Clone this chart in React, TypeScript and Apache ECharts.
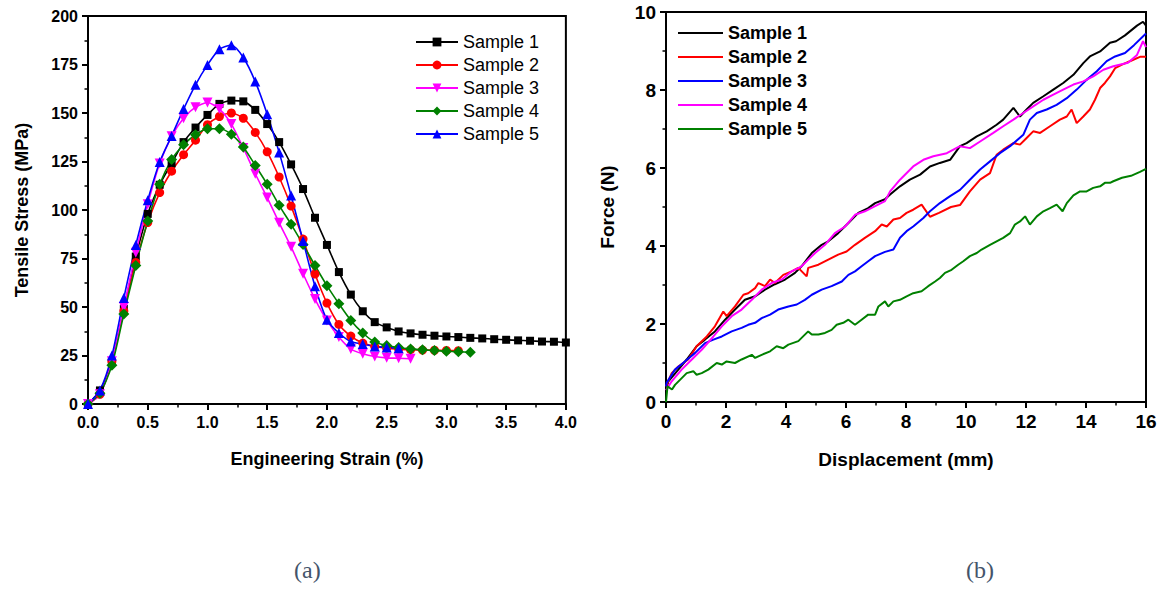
import React, { useEffect, useRef } from "react";
import * as echarts from "echarts";

// ---------- (a) tensile stress vs strain ----------
const strain = [0, 0.1, 0.2, 0.3, 0.4, 0.5, 0.6, 0.7, 0.8, 0.9, 1.0, 1.1, 1.2, 1.3, 1.4, 1.5, 1.6, 1.7, 1.8, 1.9, 2.0,
  2.1, 2.2, 2.3, 2.4, 2.5, 2.6, 2.7, 2.8, 2.9, 3.0, 3.1, 3.2, 3.3, 3.4, 3.5, 3.6, 3.7, 3.8, 3.9, 4.0];
const stressS1 = [0, 7, 22, 49, 76, 98, 113, 124, 135, 142.5, 149, 154.7, 156.4, 156, 151.6, 144.3, 135, 123.5, 110.8, 96, 82,
  68, 56.4, 47.8, 42.2, 39.5, 37.4, 36.4, 35.7, 35.2, 34.8, 34.5, 34.1, 33.8, 33.4, 33.1, 32.8, 32.6, 32.2, 32.1, 31.7];
const stressS2 = [0, 5, 22, 48, 73, 93.5, 109, 120, 128.5, 136, 144, 148.2, 150, 147.3, 140, 130, 117, 102, 85, 67, 52,
  41, 35, 31.4, 29.7, 28.8, 28.3, 28, 27.8, 27.7, 27.6, 27.5];
const stressS3 = [0, 5, 22, 50, 78, 103, 124, 138, 147.3, 153, 155.4, 152, 144.3, 132, 118.7, 106.4, 93.4, 81, 67.2, 54.1, 43.1,
  34.5, 28.3, 25.9, 24.5, 23.8, 23.6, 23.3];
const stressS4 = [0, 5.5, 20, 46.4, 71.4, 94.3, 113.3, 126, 133.6, 138.8, 141.9, 141.9, 139, 132.5, 123, 113.3, 102.4, 92.6, 82.2, 71.4, 61,
  51.7, 43.1, 36.6, 31.9, 30.2, 29.1, 28.4, 27.9, 27.6, 27.2, 26.9, 26.7];
const stressS5 = [0, 7, 25, 54.7, 82, 105, 124.7, 138.2, 152, 164.5, 174.8, 182.8, 184.9, 178.6, 166.2, 149.4, 129.7, 107.5, 84, 60.7, 43.4,
  36.6, 32.2, 30.9, 29.7, 29.1, 28.8];
const strainTicks = ["0.0", "0.5", "1.0", "1.5", "2.0", "2.5", "3.0", "3.5", "4.0"];

// ---------- (b) force vs displacement ----------
const dispS1 = [0, 0.08, 0.41, 0.69, 1.02, 1.3, 1.63, 1.97, 2.3, 2.63, 2.97, 3.3, 3.63, 3.97, 4.3, 4.52, 4.86, 5.19, 5.41, 5.74, 6.08, 6.41, 6.74, 6.97, 7.3, 7.47, 7.8, 8.13, 8.47, 8.8, 9.13, 9.47, 9.8, 10.02, 10.36, 10.69, 11.02, 11.24, 11.58, 11.8, 12.02, 12.24, 12.58, 12.91, 13.24, 13.58, 13.91, 14.13, 14.47, 14.8, 15.0, 15.3, 15.7, 15.9, 16];
const forceS1 = [0.3, 0.53, 0.83, 1.09, 1.43, 1.6, 1.81, 2.11, 2.37, 2.62, 2.71, 2.88, 3.02, 3.14, 3.31, 3.48, 3.82, 4.03, 4.12, 4.33, 4.59, 4.85, 4.97, 5.1, 5.2, 5.32, 5.53, 5.7, 5.83, 6.04, 6.13, 6.21, 6.56, 6.64, 6.81, 6.94, 7.11, 7.24, 7.54, 7.32, 7.5, 7.67, 7.84, 8.01, 8.18, 8.39, 8.69, 8.86, 8.99, 9.21, 9.25, 9.4, 9.65, 9.75, 9.65];
const dispS2 = [0, 0.19, 0.41, 0.74, 1.02, 1.36, 1.63, 1.91, 2.02, 2.3, 2.58, 2.74, 2.97, 3.08, 3.3, 3.47, 3.63, 3.91, 4.19, 4.41, 4.69, 4.74, 5.08, 5.41, 5.74, 6.02, 6.3, 6.63, 6.97, 7.19, 7.36, 7.58, 7.8, 8.02, 8.24, 8.52, 8.8, 9.1, 9.5, 9.8, 10.13, 10.47, 10.8, 11.02, 11.24, 11.58, 11.8, 12.02, 12.24, 12.47, 12.8, 13.13, 13.36, 13.52, 13.69, 13.91, 14.13, 14.3, 14.47, 14.63, 14.8, 14.97, 15.2, 15.5, 15.8, 16];
const forceS2 = [0.4, 0.74, 0.91, 1.09, 1.43, 1.68, 1.94, 2.32, 2.2, 2.45, 2.75, 2.79, 2.92, 3.05, 2.97, 3.14, 3.05, 3.26, 3.35, 3.44, 3.22, 3.44, 3.52, 3.65, 3.78, 3.86, 4.03, 4.21, 4.38, 4.55, 4.5, 4.68, 4.72, 4.85, 4.93, 5.06, 4.75, 4.85, 5.0, 5.05, 5.4, 5.7, 5.87, 6.34, 6.47, 6.64, 6.6, 6.77, 6.94, 6.9, 7.07, 7.24, 7.32, 7.5, 7.15, 7.32, 7.5, 7.75, 8.05, 8.18, 8.35, 8.56, 8.65, 8.75, 8.85, 8.85];
const dispS3 = [0, 0.02, 0.3, 0.63, 0.97, 1.3, 1.58, 1.86, 2.19, 2.52, 2.74, 2.97, 3.19, 3.47, 3.74, 4.08, 4.36, 4.63, 4.86, 5.19, 5.52, 5.86, 6.08, 6.3, 6.52, 6.74, 6.97, 7.3, 7.58, 7.8, 8.02, 8.24, 8.58, 8.8, 9.13, 9.47, 9.8, 10.13, 10.47, 10.8, 11.13, 11.47, 11.91, 12.13, 12.36, 12.69, 13.02, 13.36, 13.69, 14.02, 14.36, 14.69, 14.97, 15.3, 15.6, 16];
const forceS3 = [0.4, 0.49, 0.83, 1.04, 1.26, 1.51, 1.6, 1.68, 1.81, 1.9, 1.98, 2.03, 2.15, 2.24, 2.37, 2.45, 2.5, 2.62, 2.75, 2.88, 2.97, 3.09, 3.26, 3.35, 3.48, 3.61, 3.74, 3.85, 3.91, 4.21, 4.38, 4.5, 4.72, 4.89, 5.1, 5.28, 5.44, 5.7, 5.96, 6.17, 6.38, 6.56, 6.85, 7.24, 7.41, 7.5, 7.62, 7.79, 8.01, 8.26, 8.48, 8.74, 8.86, 8.95, 9.15, 9.45];
const dispS4 = [0, 0.19, 0.52, 0.86, 1.19, 1.58, 1.86, 2.19, 2.52, 2.86, 3.19, 3.52, 3.86, 4.19, 4.52, 4.74, 4.97, 5.3, 5.63, 5.97, 6.3, 6.63, 6.97, 7.3, 7.47, 7.8, 8.24, 8.58, 8.91, 9.36, 9.8, 10.13, 10.47, 10.91, 11.24, 11.58, 11.91, 12.24, 12.58, 12.91, 13.24, 13.58, 13.91, 14.24, 14.58, 14.91, 15.4, 15.7, 15.9, 16];
const forceS4 = [0.3, 0.53, 0.83, 1.09, 1.34, 1.68, 1.94, 2.2, 2.37, 2.62, 2.88, 3.05, 3.14, 3.35, 3.48, 3.65, 3.82, 4.03, 4.33, 4.5, 4.8, 4.89, 5.02, 5.15, 5.4, 5.7, 6.04, 6.21, 6.3, 6.38, 6.56, 6.51, 6.68, 6.9, 7.07, 7.24, 7.41, 7.58, 7.75, 7.88, 8.01, 8.14, 8.22, 8.35, 8.52, 8.61, 8.7, 8.9, 9.25, 9.1];
const dispS5 = [0, 0.05, 0.2, 0.3, 0.69, 0.91, 1.02, 1.19, 1.41, 1.69, 1.86, 2.02, 2.3, 2.52, 2.86, 2.97, 3.19, 3.47, 3.69, 3.91, 4.08, 4.41, 4.74, 4.86, 5.08, 5.3, 5.52, 5.69, 5.91, 6.08, 6.3, 6.52, 6.74, 6.97, 7.08, 7.3, 7.41, 7.58, 7.8, 8.02, 8.24, 8.52, 8.74, 8.97, 9.13, 9.3, 9.52, 9.74, 9.91, 10.13, 10.36, 10.52, 10.8, 11.02, 11.24, 11.47, 11.63, 11.8, 11.97, 12.13, 12.36, 12.58, 12.8, 13.02, 13.22, 13.36, 13.58, 13.8, 14.02, 14.24, 14.47, 14.63, 14.8, 14.91, 15.2, 15.5, 15.8, 16];
const forceS5 = [0, 0.4, 0.32, 0.44, 0.74, 0.79, 0.7, 0.74, 0.83, 1.0, 0.96, 1.04, 1.0, 1.09, 1.21, 1.13, 1.21, 1.3, 1.43, 1.38, 1.47, 1.56, 1.81, 1.73, 1.73, 1.77, 1.85, 1.98, 2.03, 2.11, 1.98, 2.11, 2.24, 2.24, 2.45, 2.58, 2.45, 2.58, 2.62, 2.71, 2.79, 2.84, 2.97, 3.09, 3.18, 3.31, 3.39, 3.52, 3.61, 3.74, 3.82, 3.91, 4.03, 4.12, 4.21, 4.33, 4.55, 4.63, 4.76, 4.55, 4.76, 4.89, 4.97, 5.06, 4.89, 5.1, 5.3, 5.4, 5.4, 5.49, 5.53, 5.62, 5.62, 5.66, 5.75, 5.8, 5.9, 5.98];

const FONT = '"Liberation Sans", Arial, sans-serif';

function pairs(xs: number[], ys: number[]) {
  return ys.map((y, i) => [xs[i], y]);
}

function axisCommon(fontSize: number) {
  return {
    axisLine: { show: true, onZero: false, lineStyle: { color: "#000", width: 2 } },
    axisTick: { show: true, inside: false, length: 6, lineStyle: { color: "#000", width: 2 } },
    minorTick: { show: true, splitNumber: 2, length: 3.5, lineStyle: { color: "#000", width: 1.5 } },
    splitLine: { show: false },
    axisLabel: { color: "#000", fontWeight: "bold" as const, fontSize, fontFamily: FONT },
    nameTextStyle: { color: "#000", fontWeight: "bold" as const, fontFamily: FONT },
  };
}

export default function App() {
  const leftRef = useRef<HTMLDivElement>(null);
  const rightRef = useRef<HTMLDivElement>(null);

  useEffect(() => {
    document.body.style.margin = "0";
    const left = echarts.init(leftRef.current!, undefined, { renderer: "svg" });
    const right = echarts.init(rightRef.current!, undefined, { renderer: "svg" });

    const lc = axisCommon(16);
    const leftSeriesDefs = [
      { name: "Sample 1", data: stressS1, color: "#000000", symbol: "rect", size: 8, rot: 0 },
      { name: "Sample 2", data: stressS2, color: "#ff0000", symbol: "circle", size: 9, rot: 0 },
      { name: "Sample 3", data: stressS3, color: "#ff00ff", symbol: "triangle", size: 10, rot: 180 },
      { name: "Sample 4", data: stressS4, color: "#008000", symbol: "diamond", size: 11, rot: 0 },
      { name: "Sample 5", data: stressS5, color: "#0000ff", symbol: "triangle", size: 10, rot: 0 },
    ];

    left.setOption({
      animation: false,
      backgroundColor: "#ffffff",
      textStyle: { fontFamily: FONT },
      grid: { left: 88, top: 16, width: 481, height: 388, show: true, borderColor: "#000", borderWidth: 2 },
      xAxis: {
        type: "value", min: 0, max: 4, interval: 0.5,
        ...lc,
        axisLabel: { ...lc.axisLabel, margin: 10, formatter: (v: number) => strainTicks[Math.round(v / 0.5)] ?? "" },
        name: "Engineering Strain (%)", nameLocation: "middle", nameGap: 46,
        nameTextStyle: { ...lc.nameTextStyle, fontSize: 18 },
      },
      yAxis: {
        type: "value", min: 0, max: 200, interval: 25,
        ...lc,
        axisLabel: { ...lc.axisLabel, margin: 10 },
        name: "Tensile Stress (MPa)", nameLocation: "middle", nameGap: 57,
        nameTextStyle: { ...lc.nameTextStyle, fontSize: 18 },
      },
      legend: {
        orient: "vertical", left: 410, top: 27, itemWidth: 42, itemHeight: 11, itemGap: 3,
        textStyle: { fontSize: 18, color: "#000", fontFamily: FONT, lineHeight: 20 },
        data: leftSeriesDefs.map((s) => s.name),
      },
      series: leftSeriesDefs.map((s) => ({
        name: s.name, type: "line", data: pairs(strain, s.data),
        symbol: s.symbol, symbolSize: s.size, symbolRotate: s.rot, showAllSymbol: true,
        smooth: 0.25,
        lineStyle: { color: s.color, width: 1.6 },
        itemStyle: { color: s.color },
      })),
      graphic: [
        { type: "text", left: 294, top: 558, style: { text: "(a)", fontSize: 24, fontFamily: '"Liberation Serif", serif', fill: "#44546a" } },
      ],
    });

    const rc = axisCommon(19);
    const rightSeriesDefs = [
      { name: "Sample 1", x: dispS1, y: forceS1, color: "#000000" },
      { name: "Sample 2", x: dispS2, y: forceS2, color: "#ff0000" },
      { name: "Sample 3", x: dispS3, y: forceS3, color: "#0000ff" },
      { name: "Sample 4", x: dispS4, y: forceS4, color: "#ff00ff" },
      { name: "Sample 5", x: dispS5, y: forceS5, color: "#008000" },
    ];
    right.setOption({
      animation: false,
      backgroundColor: "#ffffff",
      textStyle: { fontFamily: FONT },
      grid: { left: 86, top: 12, width: 480, height: 390, show: true, borderColor: "#000", borderWidth: 2 },
      xAxis: {
        type: "value", min: 0, max: 16, interval: 2,
        ...rc,
        axisLabel: { ...rc.axisLabel, margin: 10 },
        name: "Displacement (mm)", nameLocation: "middle", nameGap: 48,
        nameTextStyle: { ...rc.nameTextStyle, fontSize: 19 },
      },
      yAxis: {
        type: "value", min: 0, max: 10, interval: 2,
        ...rc,
        axisLabel: { ...rc.axisLabel, margin: 10 },
        name: "Force (N)", nameLocation: "middle", nameGap: 49,
        nameTextStyle: { ...rc.nameTextStyle, fontSize: 19 },
      },
      legend: {
        orient: "vertical", left: 93, top: 18, itemWidth: 45, itemHeight: 2, itemGap: 4, icon: "rect",
        textStyle: { fontSize: 18, fontWeight: "bold", color: "#000", fontFamily: FONT, lineHeight: 20 },
        data: rightSeriesDefs.map((s) => s.name),
      },
      series: rightSeriesDefs.map((s) => ({
        name: s.name, type: "line", data: pairs(s.x, s.y),
        symbol: "none", smooth: false,
        lineStyle: { color: s.color, width: 2 },
        itemStyle: { color: s.color },
      })),
      graphic: [
        { type: "text", left: 386, top: 558, style: { text: "(b)", fontSize: 24, fontFamily: '"Liberation Serif", serif', fill: "#44546a" } },
      ],
    });

    return () => {
      left.dispose();
      right.dispose();
    };
  }, []);

  return (
    <div style={{ position: "relative", width: 1160, height: 590, background: "#fff" }}>
      <div ref={leftRef} style={{ position: "absolute", left: 0, top: 0, width: 580, height: 590 }} />
      <div ref={rightRef} style={{ position: "absolute", left: 580, top: 0, width: 580, height: 590 }} />
    </div>
  );
}
